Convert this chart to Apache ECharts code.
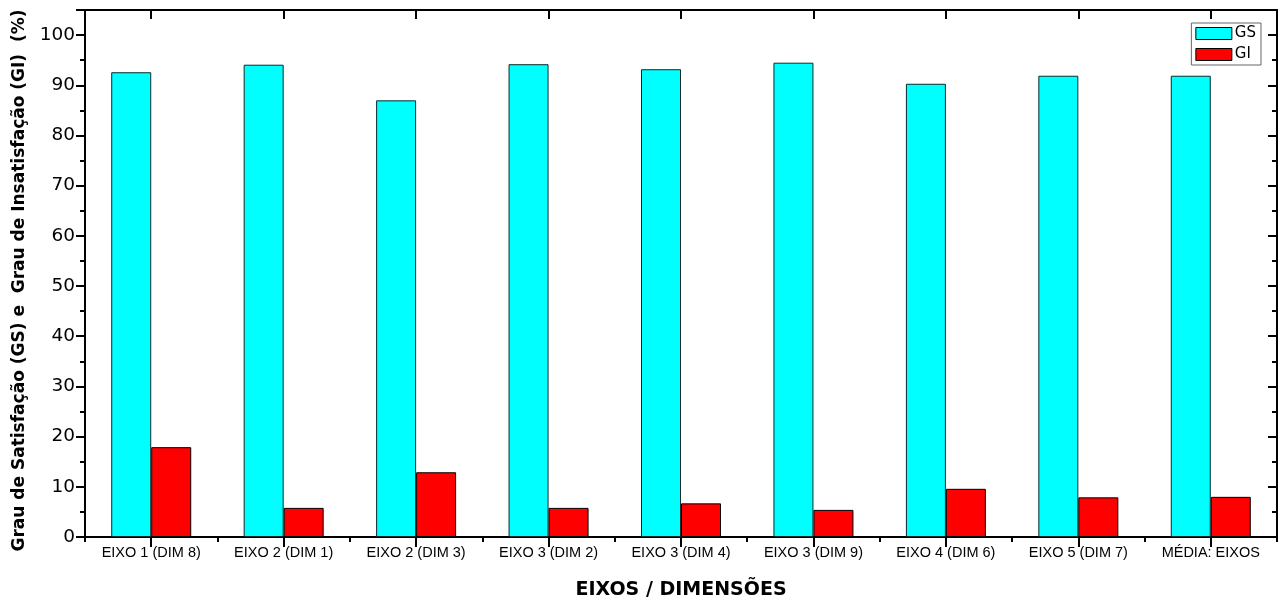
<!DOCTYPE html>
<html>
<head>
<meta charset="utf-8">
<script src="https://cdn.jsdelivr.net/npm/echarts@6/dist/echarts.min.js"></script>
<style>
  html, body { margin: 0; padding: 0; background: #fff; }
  #chart { width: 1282px; height: 598px; }
</style>
</head>
<body>
<div id="chart"></div>
<script>
// Satisfaction (GS) and dissatisfaction (GI) degree per axis / dimension, in %
const categories = [
  'EIXO 1 (DIM 8)', 'EIXO 2 (DIM 1)', 'EIXO 2 (DIM 3)', 'EIXO 3 (DIM 2)',
  'EIXO 3 (DIM 4)', 'EIXO 3 (DIM 9)', 'EIXO 4 (DIM 6)', 'EIXO 5 (DIM 7)', 'MÉDIA: EIXOS'
];
const gsValues = [92.6, 94.1, 87.0, 94.2, 93.2, 94.5, 90.3, 91.9, 91.9];
const giValues = [17.9, 5.8, 12.9, 5.8, 6.7, 5.4, 9.6, 7.9, 8.0];
const yTicks = { min: 0, max: 105, interval: 10 };

const FONT = '"Liberation Sans", Arial, sans-serif';
const WIDE = '"DejaVu Sans", sans-serif';
const lineStyle = { color: '#000', width: 2 };

const chart = echarts.init(document.getElementById('chart'), null, { renderer: 'canvas' });

chart.setOption({
  animation: false,
  textStyle: { fontFamily: FONT },
  grid: { left: 85, right: 5, top: 10, bottom: 61, containLabel: false, outerBoundsMode: 'none' },
  legend: {
    right: 21, top: 23, orient: 'vertical',
    icon: 'rect',
    itemWidth: 36, itemHeight: 12, itemGap: 6,
    padding: [3, 5, 3, 4],
    borderColor: '#666', borderWidth: 1, borderRadius: 0,
    textStyle: { fontFamily: WIDE, fontSize: 15, color: '#000', padding: [0, 0, 0, -2] },
    itemStyle: { borderColor: '#000', borderWidth: 1 },
    data: ['GS', 'GI']
  },
  xAxis: [
    {
      type: 'category', data: categories, position: 'bottom',
      axisLine: { lineStyle },
      axisTick: { show: true, alignWithLabel: false, inside: false, length: 5, lineStyle },
      axisLabel: { fontFamily: FONT, fontSize: 14.5, color: '#000', margin: 8, interval: 0 },
      name: 'EIXOS / DIMENSÕES', nameLocation: 'middle', nameGap: 44,
      nameTextStyle: { fontFamily: WIDE, fontSize: 19, fontWeight: 'bold', color: '#000' }
    },
    {
      // centre ticks under each category
      type: 'category', data: categories, position: 'bottom',
      axisLine: { show: false },
      axisTick: { show: true, alignWithLabel: true, inside: false, length: 10, lineStyle },
      axisLabel: { show: false }
    },
    {
      type: 'category', data: categories, position: 'top',
      axisLine: { lineStyle },
      axisTick: { show: true, alignWithLabel: true, inside: true, length: 9, lineStyle },
      axisLabel: { show: false }
    }
  ],
  yAxis: [
    {
      type: 'value', position: 'left', min: yTicks.min, max: yTicks.max, interval: yTicks.interval,
      axisLine: { show: true, lineStyle },
      axisTick: { show: true, inside: false, length: 9, lineStyle },
      minorTick: { show: true, splitNumber: 2, length: 5, lineStyle },
      splitLine: { show: false },
      axisLabel: {
        fontFamily: WIDE, fontSize: 18.5, color: '#000', margin: 10,
        formatter: v => (v > 100 ? '' : String(v))
      },
      name: 'Grau de Satisfação (GS) e  Grau de Insatisfação (GI)  (%)',
      nameLocation: 'middle', nameGap: 57,
      nameTextStyle: {
        fontFamily: WIDE, fontSize: 17, fontWeight: 'bold', color: '#000',
        padding: [0, 14, 0, 0]
      }
    },
    {
      type: 'value', position: 'right', min: yTicks.min, max: yTicks.max, interval: yTicks.interval,
      axisLine: { show: true, lineStyle },
      axisTick: { show: true, inside: true, length: 9, lineStyle },
      minorTick: { show: true, splitNumber: 2, length: 5, lineStyle },
      splitLine: { show: false },
      axisLabel: { show: false }
    }
  ],
  series: [
    {
      name: 'GS', type: 'bar', data: gsValues, xAxisIndex: 0, yAxisIndex: 0,
      barGap: '0%', barCategoryGap: '39.6%',
      itemStyle: { color: '#00ffff', borderColor: '#0a2a2a', borderWidth: 1 }
    },
    {
      name: 'GI', type: 'bar', data: giValues, xAxisIndex: 0, yAxisIndex: 0,
      barGap: '0%', barCategoryGap: '39.6%',
      itemStyle: { color: '#ff0000', borderColor: '#000', borderWidth: 1 }
    }
  ]
});
</script>
</body>
</html>
